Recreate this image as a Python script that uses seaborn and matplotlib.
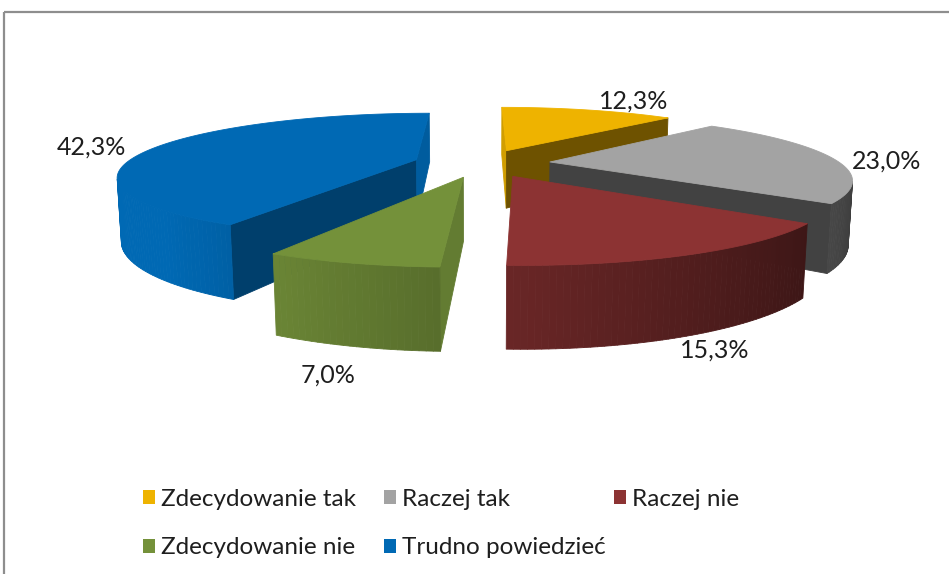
import numpy as np
import matplotlib
matplotlib.use("Agg")
import matplotlib.pyplot as plt
from matplotlib.patches import Polygon, Rectangle, Patch
from matplotlib.legend import Legend
from matplotlib.colors import to_rgb
import seaborn as sns

# ---------------- data ----------------
categories = ["Zdecydowanie tak", "Raczej tak", "Raczej nie",
              "Zdecydowanie nie", "Trudno powiedzieć"]
values = [12.3, 23.0, 15.3, 7.0, 42.3]
value_labels = ["12,3%", "23,0%", "15,3%", "7,0%", "42,3%"]
colors = ["#EEB300", "#A3A3A3", "#8C3333", "#74913A", "#0069B4"]

# ---------------- style ----------------
sns.set_theme(style="white")
plt.rcParams['font.family'] = ['Lato', 'DejaVu Sans']
palette = sns.color_palette(colors)
TEXT_COLOR = "#1E1E1E"

W, H = 949, 574
fig = plt.figure(figsize=(W / 100, H / 100), dpi=100)
ax = fig.add_axes([0, 0, 1, 1])
ax.set_xlim(0, W)
ax.set_ylim(H, 0)
ax.axis('off')

# chart frame
ax.add_patch(Rectangle((4, 12), 1200, 800, fill=False, edgecolor="#8E8E8E", lw=1.6))

# ---------------- 3D projection ----------------
CX, CY = 482, 163
F = 1160.0
DIST = 4.0
PHI = np.deg2rad(11.8)
THICK = 0.215
EXPLODE = 0.236
CAM = np.array([0.0, -DIST * np.cos(PHI), DIST * np.sin(PHI)])  # (X, Z, h)


def proj(X, Z, h):
    yv = Z * np.sin(PHI) + h * np.cos(PHI)
    zv = DIST + Z * np.cos(PHI) - h * np.sin(PHI)
    return (CX + F * X / zv, CY - F * yv / zv)


def shade(c, f):
    f = float(np.clip(f, 0.25, 1.0))
    return tuple(v * f for v in to_rgb(c))


def visible(n, p):
    return n[0] * (CAM[0] - p[0]) + n[1] * (CAM[1] - p[1]) > 0


def face(pts, col):
    ax.add_patch(Polygon(pts, closed=True, facecolor=col, edgecolor=col,
                         lw=0.6, joinstyle='round'))


total = sum(values)
fr = np.array(values) / total
starts = 90 - 360 * np.concatenate([[0], np.cumsum(fr)[:-1]])
ends = starts - 360 * fr
mids = (starts + ends) / 2

order = np.argsort(-np.sin(np.deg2rad(mids)))  # back to front

for i in order:
    a1, a2, m = np.deg2rad(starts[i]), np.deg2rad(ends[i]), np.deg2rad(mids[i])
    ex, ez = EXPLODE * np.cos(m), EXPLODE * np.sin(m)
    col = palette[i]

    # radial faces
    for a, n in ((a1, (-np.sin(a1), np.cos(a1))), (a2, (np.sin(a2), -np.cos(a2)))):
        p = (ex + 0.5 * np.cos(a), ez + 0.5 * np.sin(a))
        if visible(n, p):
            pts = [proj(ex, ez, 0), proj(ex + np.cos(a), ez + np.sin(a), 0),
                   proj(ex + np.cos(a), ez + np.sin(a), -THICK), proj(ex, ez, -THICK)]
            face(pts, shade(col, 0.88 + 0.6 * n[1]))

    # outer curved side
    nseg = max(int(abs(starts[i] - ends[i])), 2)
    th = np.linspace(a1, a2, nseg + 1)
    for k in range(nseg):
        t0, t1 = th[k], th[k + 1]
        tm = 0.5 * (t0 + t1)
        n = (np.cos(tm), np.sin(tm))
        p = (ex + np.cos(tm), ez + np.sin(tm))
        if visible(n, p):
            pts = [proj(ex + np.cos(t0), ez + np.sin(t0), 0),
                   proj(ex + np.cos(t1), ez + np.sin(t1), 0),
                   proj(ex + np.cos(t1), ez + np.sin(t1), -THICK),
                   proj(ex + np.cos(t0), ez + np.sin(t0), -THICK)]
            face(pts, shade(col, 0.74 - 0.38 * np.cos(tm)))

    # top face
    th = np.linspace(a1, a2, 120)
    pts = [proj(ex, ez, 0)] + [proj(ex + np.cos(t), ez + np.sin(t), 0) for t in th]
    face(pts, col)

# ---------------- value labels ----------------
LABEL_R = 1.18
label_nudge = [(34, -3), (5, 4), (-18, -9), (3, 2), (-22, 3)]
for i in range(len(values)):
    m = np.deg2rad(mids[i])
    r = EXPLODE + LABEL_R
    h = 0 if np.sin(m) > 0 else -THICK
    x, y = proj(r * np.cos(m), r * np.sin(m), h)
    dx, dy = label_nudge[i]
    ax.text(x + dx, y + dy, value_labels[i], ha='center', va='center',
            fontsize=18, color=TEXT_COLOR)

# ---------------- legend ----------------
col_x = [143, 384, 614]
ncols = 3
for j in range(ncols):
    idx = [k for k in range(len(categories)) if k % ncols == j]
    handles = [Patch(facecolor=palette[k], edgecolor='none') for k in idx]
    labels = [categories[k] for k in idx]
    leg = Legend(ax, handles, labels, loc='upper left',
                 bbox_to_anchor=(col_x[j], 489), bbox_transform=ax.transData,
                 frameon=False, fontsize=17.5, handlelength=0.5, handleheight=0.5,
                 handletextpad=0.25, labelspacing=1.12, borderpad=0, borderaxespad=0,
                 labelcolor=TEXT_COLOR)
    ax.add_artist(leg)

fig.savefig("out.png", dpi=100)
